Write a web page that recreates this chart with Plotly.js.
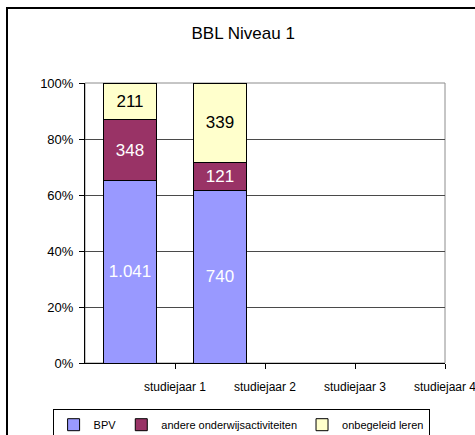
<!DOCTYPE html>
<html>
<head>
<meta charset="utf-8">
<script src="https://cdn.plot.ly/plotly-3.0.1.min.js"></script>
<style>
html,body{margin:0;padding:0;background:#fff;overflow:hidden;}
#wrap{position:relative;width:475px;height:435px;overflow:hidden;}
#frame{position:absolute;left:6px;top:7px;width:480px;height:440px;border-left:2px solid #000;border-top:2px solid #000;pointer-events:none;}
</style>
</head>
<body>
<div id="wrap">
<div id="chart" style="width:475px;height:435px;"></div>
<div id="frame"></div>
</div>
<script>
const categories = ["studiejaar 1", "studiejaar 2", "studiejaar 3", "studiejaar 4"];
const seriesNames = ["BPV", "andere onderwijsactiviteiten", "onbegeleid leren"];
const bpv = [1041, 740, null, null];
const andere = [348, 121, null, null];
const onbegeleid = [211, 339, null, null];
const colors = ["#9999FF", "#993366", "#FFFFCC"];
const textColors = ["#FFFFFF", "#FFFFFF", "#000000"];

const FONT = "Liberation Sans, Arial, sans-serif";
const fmt = v => v == null ? "" : String(v).replace(/\B(?=(\d{3})+(?!\d))/g, ".");
const xs = categories.map((c, i) => i);

const traces = [bpv, andere, onbegeleid].map((vals, k) => ({
  type: "bar",
  name: seriesNames[k],
  x: xs,
  y: vals,
  width: 0.59,
  text: vals.map(fmt),
  textposition: "inside",
  insidetextanchor: "middle",
  textangle: 0,
  textfont: {family: FONT, size: 17, color: textColors[k]},
  marker: {color: colors[k], line: {color: "#000", width: 1}},
  hoverinfo: "skip"
}));

const layout = {
  width: 475, height: 435,
  margin: {l: 85, r: 30, t: 83, b: 72, autoexpand: false},
  paper_bgcolor: "#fff", plot_bgcolor: "#fff",
  font: {family: FONT, color: "#000"},
  barmode: "stack",
  barnorm: "percent",
  showlegend: true,
  uniformtext: {minsize: 17, mode: "show"},
  title: {text: "BBL Niveau 1", font: {family: FONT, size: 17, color: "#000"},
          x: 0.512, xanchor: "center", y: 0.924, yanchor: "middle"},
  xaxis: {
    range: [-0.5, 3.5],
    tickmode: "array",
    tickvals: xs.map(i => i + 0.5),
    ticktext: categories,
    ticks: "outside", ticklen: 5, tickcolor: "#000",
    ticklabelstandoff: 8,
    ticklabeloverflow: "allow",
    showgrid: false, zeroline: false,
    showline: true, linecolor: "#000", linewidth: 1,
    tickfont: {family: FONT, size: 12, color: "#000"},
    fixedrange: true
  },
  yaxis: {
    range: [0, 100],
    tickvals: [0, 20, 40, 60, 80, 100],
    ticktext: ["0%", "20%", "40%", "60%", "80%", "100%"],
    ticks: "outside", ticklen: 5, tickcolor: "#000",
    ticklabelstandoff: 3,
    showgrid: true, gridcolor: "#4a4a4a", gridwidth: 1,
    zeroline: false,
    showline: true, linecolor: "#000", linewidth: 1,
    tickfont: {family: FONT, size: 13, color: "#000"},
    fixedrange: true
  },
  legend: {
    orientation: "h",
    traceorder: "normal",
    xref: "paper", yref: "paper",
    x: -0.09, xanchor: "left",
    y: -0.165, yanchor: "top",
    bordercolor: "#000", borderwidth: 1,
    font: {family: FONT, size: 11, color: "#000"},
    itemwidth: 30
  },
  shapes: [
    {type: "rect", xref: "paper", yref: "paper", x0: 0, x1: 1, y0: 0, y1: 1,
     line: {color: "#8c8c8c", width: 1}, layer: "below"}
  ]
};

Plotly.newPlot("chart", traces, layout, {staticPlot: true, displayModeBar: false});
</script>
</body>
</html>
